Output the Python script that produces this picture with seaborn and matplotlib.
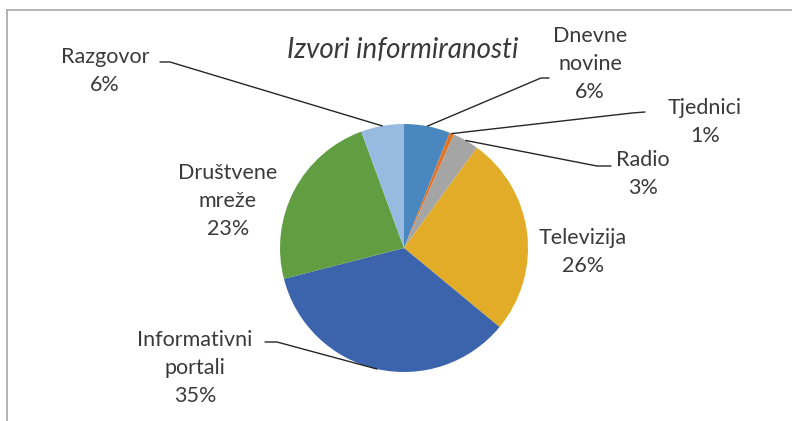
import matplotlib
matplotlib.use("Agg")
import matplotlib.pyplot as plt
import seaborn as sns
import numpy as np
from matplotlib.lines import Line2D

# data (percent shares)
categories = ["Dnevne\nnovine", "Tjednici", "Radio", "Televizija",
              "Informativni\nportali", "Društvene\nmreže", "Razgovor"]
shares = [6.0, 0.6, 3.4, 26.0, 35.0, 23.4, 5.6]
colors = ["#4A87BE", "#E0752A", "#A5A5A5", "#E2AC28",
          "#3B64AD", "#619E42", "#97BBE0"]
title = "Izvori informiranosti"

# layout in pixels (x from left, y from top)
W, H = 792, 421
CX, CY, R = 404, 248, 124
label_pos = [(590, 64), (705, 122), (643, 174), (583, 252),
             (195, 368), (228, 201), (105, 71)]
# (elbow point near text, end of short horizontal run) or None
leaders = [((541, 78), (549, 78)), ((632, 113), (645, 112)),
           ((597, 166), (611, 166)), None,
           ((277, 342), (265, 342)), None,
           ((170, 62), (160, 62))]


def px(x, y):
    return (x - CX) / R, (CY - y) / R


sns.set_style("white")
plt.rcParams["font.family"] = ["Lato", "DejaVu Sans"]

fig = plt.figure(figsize=(W / 100, H / 100), dpi=100)
ax = fig.add_axes([0, 0, 1, 1])

wedges, _ = ax.pie(shares, colors=colors, startangle=90, counterclock=False,
                   radius=1, wedgeprops=dict(linewidth=0))
ax.set_xlim(-CX / R, (W - CX) / R)
ax.set_ylim(-(H - CY) / R, CY / R)
ax.set_aspect("equal")
ax.axis("off")

for w, cat, val, pos, ld in zip(wedges, categories, shares, label_pos, leaders):
    txt = f"{cat}\n{round(val):.0f}%"
    ax.text(*px(*pos), txt, ha="center", va="center", fontsize=15.5,
            color="#3A3A3A", linespacing=1.5)
    if ld is None:
        continue
    mid = np.deg2rad((w.theta1 + w.theta2) / 2)
    ex, ey = np.cos(mid), np.sin(mid)
    (x1, y1), (x2, y2) = px(*ld[0]), px(*ld[1])
    ax.plot([ex, x1, x2], [ey, y1, y2], color="#262626", lw=1.0,
            solid_joinstyle="miter")

ax.text(*px(403, 50), title, ha="center", va="center", fontsize=20,
        style="italic", color="#3A3A3A")

# partial chart frame
fig.add_artist(Line2D([7 / W, 1], [1 - 10 / H, 1 - 10 / H],
                      transform=fig.transFigure, color="#A6A6A6", lw=1.2))
fig.add_artist(Line2D([7 / W, 7 / W], [0, 1 - 10 / H],
                      transform=fig.transFigure, color="#A6A6A6", lw=1.2))

fig.savefig("out.png", dpi=100, facecolor="white")
